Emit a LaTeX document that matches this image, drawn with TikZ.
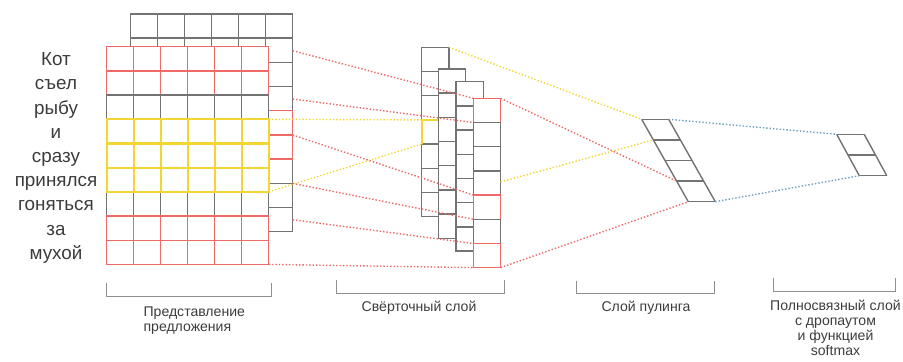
\documentclass[tikz,border=0pt]{standalone}
\usepackage{fontspec}
\setmainfont{Liberation Sans}
\usetikzlibrary{positioning}
\definecolor{netRed}{RGB}{240,105,105}
\definecolor{netYellow}{RGB}{242,214,50}
\definecolor{netGray}{RGB}{115,115,115}
\definecolor{netBlue}{RGB}{110,160,190}
\definecolor{txtGray}{RGB}{60,60,60}

\begin{document}
\begin{tikzpicture}[
  x=0.025cm, y=-0.025cm,
  cell/.style={draw=#1, line width=1pt},
  link/.style={draw=#1, line width=1pt, dash pattern=on 1pt off 1.4pt},
  word/.style={anchor=base, inner sep=0pt, text=txtGray, font=\fontsize{13.4}{16}\selectfont},
  caption/.style={anchor=north, inner sep=0pt, align=center, text=txtGray, font=\fontsize{10}{10.8}\selectfont},
  brace/.style={draw=netGray!80, line width=0.6pt}
]
\useasboundingbox (0,0) rectangle (903,362);
\def\cw{27}
\def\ch{24.19}
% back sentence matrix
\foreach \r in {1,...,9}
  \foreach \k in {1,...,6}
    \draw[cell=netGray] ({130.7+(\k-1)*\cw},{14+(\r-1)*\ch}) rectangle ++(\cw,\ch);
\foreach \r in {5,6}
  \draw[cell=netRed] ({130.7+5*\cw},{14+(\r-1)*\ch}) rectangle ++(\cw,\ch);
% front sentence matrix
\fill[white] (106.7,46.7) rectangle ++({6*\cw},{9*\ch});
\foreach \r/\c/\lw in {1/netRed/1,2/netRed/1,3/netGray/1,7/netGray/1,4/netYellow/1.5,5/netYellow/1.5,6/netYellow/1.5,8/netRed/1,9/netRed/1}
  \foreach \k in {1,...,6}
    \draw[cell=\c, line width=\lw pt] ({106.7+(\k-1)*\cw},{46.7+(\r-1)*\ch}) rectangle ++(\cw,\ch);
\foreach \w [count=\i] in {Кот,съел,рыбу,и,сразу,принялся,гоняться,за,мухой}
  \node[word] (w\i) at (56,{46.7+(\i-0.5)*\ch+7}) {\w};

% convolution maps
\foreach \x/\y in {421.7/47.3, 438.3/69, 456/81.7, 473.3/98.3} {
  \fill[white] (\x,\y) rectangle ++(27.3,{7*\ch});
  \foreach \r in {1,...,7}
    \draw[cell=netGray] (\x,{\y+(\r-1)*\ch}) rectangle ++(27.3,\ch);
}
\draw[cell=netYellow, line width=1.5pt] (421.7,{47.3+4*\ch}) -- (421.7,{47.3+3*\ch}) -- (438.3,{47.3+3*\ch});
\foreach \r in {1,5}
  \draw[cell=netRed] (473.3,{98.3+\r*\ch}) -- (473.3,{98.3+(\r-1)*\ch}) -- ++(27.3,0) -- ++(0,\ch);
\draw[cell=netRed] (473.3,{98.3+6*\ch}) rectangle ++(27.3,\ch);

% pooling
\foreach \i in {0,...,4}
  \draw[cell=netGray] ({641.7+\i*11.65},{119.3+\i*20.6}) -- ++(27,0);
\draw[cell=netGray] (641.7,119.3) -- ++(46.6,82.4) ++(27,0) -- ++(-46.6,-82.4);
% fully connected
\foreach \i in {0,1,2}
  \draw[cell=netGray] ({836.7+\i*11.3},{134.3+\i*20.7}) -- ++(27.5,0);
\draw[cell=netGray] (836.7,134.3) -- ++(22.6,41.4) ++(27.5,0) -- ++(-22.6,-41.4);

% link ends
\foreach \n/\x/\y in {e1/292.7/50.7, e2/292.7/99, e3/292.7/135, e4/292.7/183.4, e5/292.7/219.7,
  e6/268.7/264.4, f1/268.7/119.3, f2/268.7/191.8,
  c1a/421.7/119.9, c1b/421.7/144.1, c1t/449/47.3,
  c4a/473.3/98.3, c4b/473.3/122.5, c4e/473.3/195.1, c4f/473.3/219.3, c4g/473.3/243.5, c4h/473.3/267.6,
  c4tr/500.6/98.3, c4m/500.6/182, c4br/500.6/267.6,
  p0/641.7/119.3, p1/653.35/139.9, p3/676.65/181.1, p4/688.3/201.7, pt/668.7/119.3, pb/715.3/201.7,
  q0/836.7/134.3, q2/859.3/175.7}
  \coordinate (\n) at (\x,\y);
\foreach \a/\b in {e1/c4a, e2/c4b, e3/c4e, e4/c4f, e5/c4g, e6/c4h, c4tr/p3, c4br/p4}
  \draw[link=netRed] (\a) -- (\b);
\foreach \a/\b in {f1/c1a, f2/c1b, c1t/p0, c4m/p1}
  \draw[link=netYellow] (\a) -- (\b);
\foreach \a/\b in {pt/q0, pb/q2}
  \draw[link=netBlue] (\a) -- (\b);

% layer captions
\foreach \a/\b/\t/\u in {106/271.7/283.3/296.7, 336/504.3/280/293.3, 576/714/280.5/293.3, 773.3/895.7/278.3/291.7}
  \draw[brace] (\a,\t) |- (\b,\u) -- (\b,\t);
\node[caption, align=left, anchor=north west] (cap1) at (143.3,306.5) {Представление\\предложения};
\node[caption, anchor=base] (cap2) at (419,311.7) {Свёрточный слой};
\node[caption, anchor=base] (cap3) at (646,311.7) {Слой пулинга};
\node[caption] (cap4) at (835.5,299.4) {Полносвязный слой\\с дропаутом\\и функцией\\softmax};
\end{tikzpicture}
\end{document}
